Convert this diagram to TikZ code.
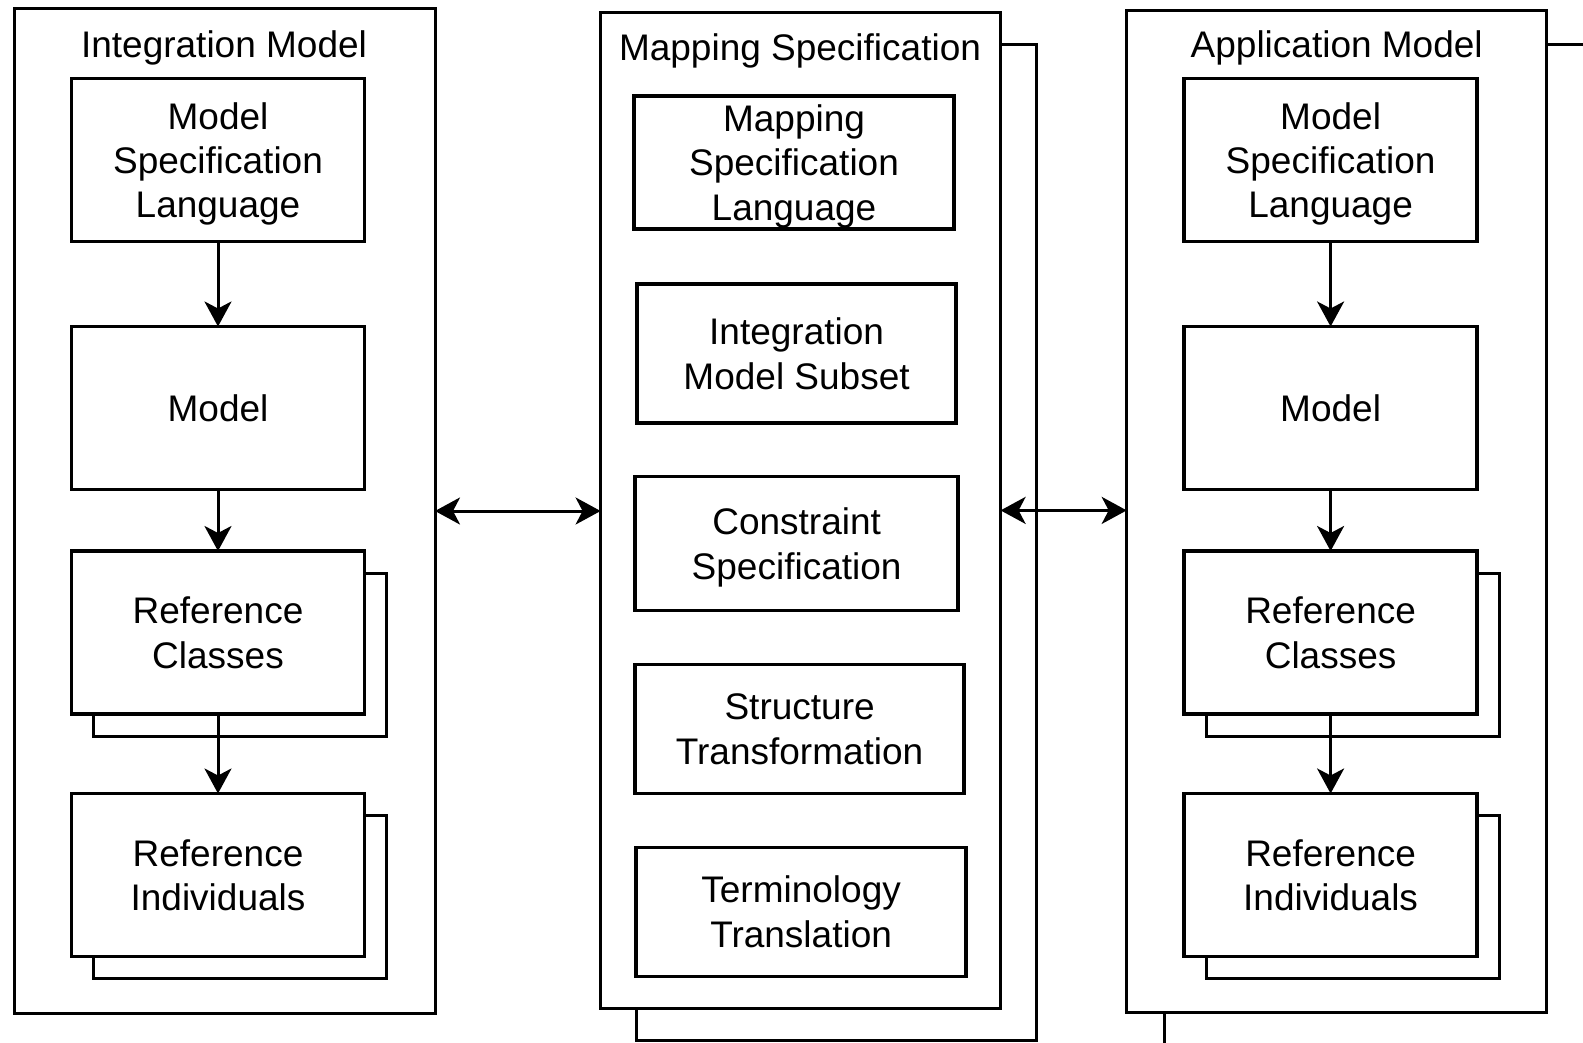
\documentclass[tikz,border=0pt]{standalone}
\usepackage{fontspec}
\setmainfont{Liberation Sans}
\usetikzlibrary{arrows.meta, shadows}

\begin{document}
\begin{tikzpicture} [
        x=1pt, y=-1pt,
        font=\fontsize{37}{44.4}\selectfont,
        pane/.style={draw, fill=white, line width=3pt, inner sep=0pt, outer sep=0pt},
        title/.style={text depth=0pt},
        blk/.style={draw, fill=white, line width=3.3pt, align=center,
                    inner sep=0pt, outer sep=0pt, text depth=0pt,
                    minimum width=293pt, minimum height=163pt},
        stack/.style={copy shadow={shadow xshift=22pt, shadow yshift=-22pt,
                      draw, fill=white, line width=3pt}},
        flow/.style={-{Stealth[length=25pt, width=27pt, inset=7pt]}, line width=3pt},
        link/.style={{Stealth[length=25pt, width=27pt, inset=7pt]}-{Stealth[length=25pt, width=27pt, inset=7pt]}, line width=3pt}
    ]

    \useasboundingbox (0,0) rectangle (1583,1043);
    \clip (0,0) rectangle (1583,1043);

    % three panes
    \node[pane, minimum width=421pt, minimum height=1004pt] (im) at (224.5,511) {};
    \node[pane, minimum width=400pt, minimum height=996.5pt,
          copy shadow={shadow xshift=36pt, shadow yshift=-32pt, draw, fill=white, line width=3pt}]
          (ms) at (800.6,510.4) {};
    \node[pane, minimum width=420pt, minimum height=1002.5pt,
          copy shadow={shadow xshift=38pt, shadow yshift=-34pt, draw, fill=white, line width=3pt}]
          (am) at (1336.7,511.4) {};

    \node[title] (im-title) at (224,44) {Integration Model};
    \node[title] (ms-title) at (800,47.5) {Mapping Specification};
    \node[title] (am-title) at (1336.7,44) {Application Model};

    % integration model
    \node[blk] (im-msl) at (218,160) {Model\\Specification\\Language};
    \node[blk] (im-model) at (218,408) {Model};
    \node[blk, stack] (im-rc) at (218,632.5) {Reference\\Classes};
    \node[blk, stack] (im-ri) at (218,875) {Reference\\Individuals};

    \draw[flow] (im-msl) -- (im-model);
    \draw[flow] (im-model) -- (im-rc);
    \draw[flow] (im-rc) -- (im-ri);

    % mapping specification
    \node[blk, minimum width=320pt, minimum height=133pt] (ms-msl) at (794,162.5) {Mapping\\Specification\\Language};
    \node[blk, minimum width=319pt, minimum height=139pt] (ms-ims) at (796.6,353.4) {Integration\\Model Subset};
    \node[blk, minimum width=323pt, minimum height=134pt] (ms-cs) at (796.6,543.7) {Constraint\\Specification};
    \node[blk, minimum width=329pt, minimum height=129pt] (ms-st) at (799.6,728.9) {Structure\\Transformation};
    \node[blk, minimum width=330pt, minimum height=129pt] (ms-tt) at (801.1,911.7) {Terminology\\Translation};

    % application model
    \node[blk] (am-msl) at (1330.6,160) {Model\\Specification\\Language};
    \node[blk] (am-model) at (1330.6,408) {Model};
    \node[blk, stack] (am-rc) at (1330.6,632.5) {Reference\\Classes};
    \node[blk, stack] (am-ri) at (1330.6,875) {Reference\\Individuals};

    \draw[flow] (am-msl) -- (am-model);
    \draw[flow] (am-model) -- (am-rc);
    \draw[flow] (am-rc) -- (am-ri);

    % links between panes
    \draw[link] (im.east) -- (im.east -| ms.west);
    \draw[link] (ms.east) -- (ms.east -| am.west);

\end{tikzpicture}
\end{document}
